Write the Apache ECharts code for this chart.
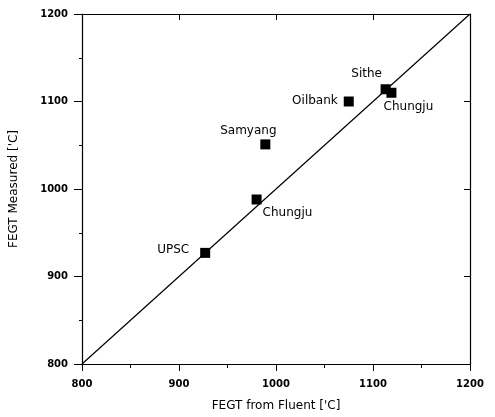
<!DOCTYPE html>
<html>
<head>
<meta charset="utf-8">
<script src="https://cdn.jsdelivr.net/npm/echarts@6/dist/echarts.min.js"></script>
<style>
html, body { margin: 0; padding: 0; background: #fff; }
#chart { width: 495px; height: 417px; }
</style>
</head>
<body>
<div id="chart"></div>
<script>
// plant names and temperatures
const plants = ['UPSC', 'Chungju', 'Samyang', 'Oilbank', 'Sithe', 'Chungju'];
const fegtFluent = [927, 980, 989, 1075, 1113, 1119];
const fegtMeasured = [927, 988, 1051, 1100, 1114, 1110];
// parity line
const parityX = [800, 1200];
const parityY = [800, 1200];

// where each plant's name sits next to its marker
const labelPlace = [
    { position: 'left', distance: 11, offset: [0, -3] },
    { position: 'right', distance: 1, offset: [0, 13] },
    { position: 'top', distance: 3, offset: [-17, 0] },
    { position: 'left', distance: 6, offset: [0, -1] },
    { position: 'top', distance: 4, offset: [-19, 0] },
    { position: 'bottom', distance: 3, offset: [17, 0] }
];

const myChart = echarts.init(document.getElementById('chart'));

const axisLine = { lineStyle: { color: '#000', width: 1.2 } };
const tickLabel = {
    color: '#000',
    fontFamily: 'DejaVu Sans',
    fontWeight: 'bold',
    fontSize: 10,
    formatter: function (v) {
        return String(v);
    }
};

const option = {
    animation: false,
    backgroundColor: '#fff',
    grid: {
        left: 79,
        right: 25,
        top: 14,
        bottom: 53
    },
    xAxis: [{
        type: 'value',
        min: 800,
        max: 1200,
        interval: 100,
        name: "FEGT from Fluent ['C]",
        nameLocation: 'middle',
        nameGap: 36,
        nameTextStyle: { color: '#000', fontFamily: 'DejaVu Sans', fontSize: 12 },
        axisLine: axisLine,
        axisTick: { inside: false, length: 7, lineStyle: { color: '#000' } },
        minorTick: { show: true, splitNumber: 2, length: 4, lineStyle: { color: '#000' } },
        axisLabel: Object.assign({ margin: 15 }, tickLabel),
        splitLine: { show: false }
    }, {
        type: 'value',
        position: 'top',
        min: 800,
        max: 1200,
        interval: 100,
        axisLine: axisLine,
        axisTick: { inside: true, length: 6, lineStyle: { color: '#000' } },
        axisLabel: { show: false },
        splitLine: { show: false }
    }],
    yAxis: [{
        type: 'value',
        min: 800,
        max: 1200,
        interval: 100,
        name: "FEGT Measured ['C]",
        nameLocation: 'middle',
        nameGap: 62,
        nameTextStyle: { color: '#000', fontFamily: 'DejaVu Sans', fontSize: 12 },
        axisLine: axisLine,
        axisTick: { inside: false, length: 8, lineStyle: { color: '#000' } },
        minorTick: { show: true, splitNumber: 2, length: 3, lineStyle: { color: '#000' } },
        axisLabel: Object.assign({ margin: 14 }, tickLabel),
        splitLine: { show: false }
    }, {
        type: 'value',
        position: 'right',
        min: 800,
        max: 1200,
        interval: 100,
        axisLine: axisLine,
        axisTick: { inside: true, length: 6, lineStyle: { color: '#000' } },
        axisLabel: { show: false },
        splitLine: { show: false }
    }],
    series: [{
        type: 'line',
        data: parityX.map((x, i) => [x, parityY[i]]),
        showSymbol: false,
        silent: true,
        lineStyle: { color: '#000', width: 1.2 }
    }, {
        type: 'scatter',
        symbol: 'rect',
        symbolSize: 10,
        itemStyle: { color: '#000', opacity: 1 },
        data: plants.map((name, i) => ({
            name: name,
            value: [fegtFluent[i], fegtMeasured[i]],
            label: Object.assign({
                show: true,
                formatter: '{b}',
                color: '#000',
                opacity: 1,
                fontFamily: 'DejaVu Sans',
                fontSize: 12
            }, labelPlace[i])
        }))
    }]
};

myChart.setOption(option);
</script>
</body>
</html>
